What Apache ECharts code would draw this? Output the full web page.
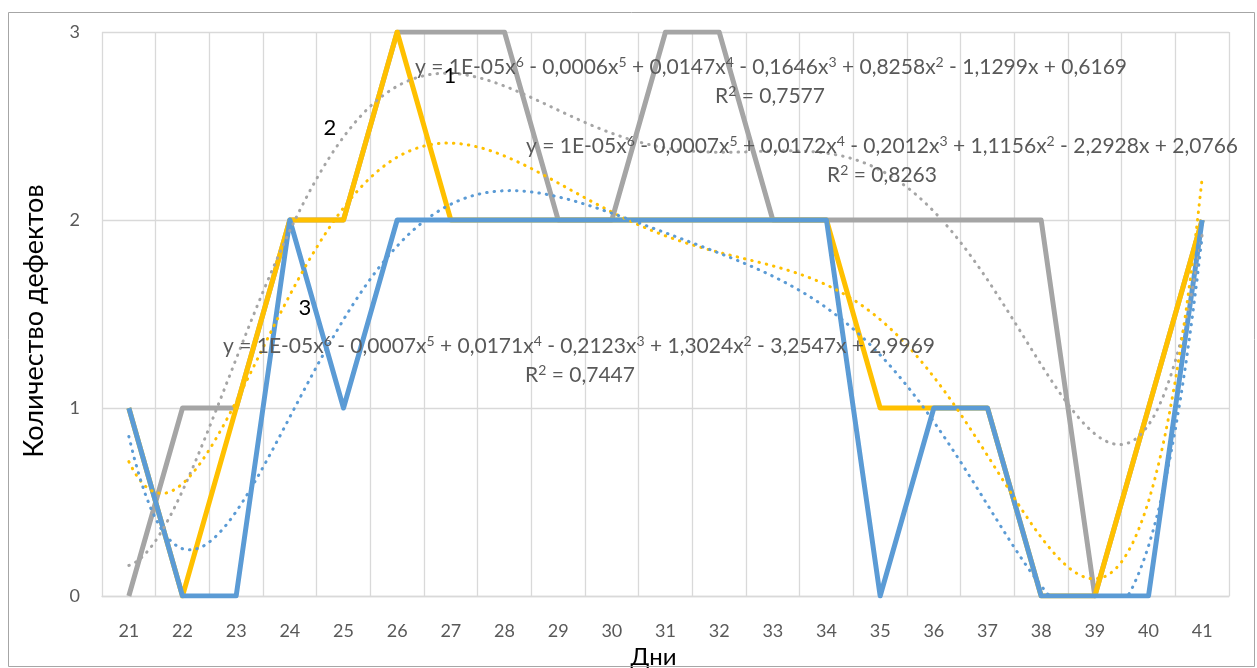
<!DOCTYPE html>
<html>
<head>
<meta charset="utf-8">
<script src="https://cdn.jsdelivr.net/npm/echarts@6/dist/echarts.min.js"></script>
<style>
  html, body { margin: 0; padding: 0; background: #ffffff; }
  #chart { width: 1257px; height: 668px; }
</style>
</head>
<body>
<div id="chart"></div>
<script>
// Days of observation
const days = ['21','22','23','24','25','26','27','28','29','30','31','32','33','34','35','36','37','38','39','40','41'];
// Defect counts per day for the three series
const series1 = [0,1,1,2,2,3,3,3,2,2,3,3,2,2,2,2,2,2,0,1,2];
const series2 = [1,0,1,2,2,3,2,2,2,2,2,2,2,2,1,1,1,0,0,1,2];
const series3 = [1,0,0,2,1,2,2,2,2,2,2,2,2,2,0,1,1,0,0,0,2];
// Trendline equations (as printed, {s|n} marks a superscript) and their R² values
const eqTexts = [
  'y = 1E-05x{s|6} - 0,0006x{s|5} + 0,0147x{s|4} - 0,1646x{s|3} + 0,8258x{s|2} - 1,1299x + 0,6169',
  'y = 1E-05x{s|6} - 0,0007x{s|5} + 0,0172x{s|4} - 0,2012x{s|3} + 1,1156x{s|2} - 2,2928x + 2,0766',
  'y = 1E-05x{s|6} - 0,0007x{s|5} + 0,0171x{s|4} - 0,2123x{s|3} + 1,3024x{s|2} - 3,2547x + 2,9969'
];
const r2Texts = ['R{s|2} = 0,7577', 'R{s|2} = 0,8263', 'R{s|2} = 0,7447'];
const seriesTags = ['1', '2', '3'];
const yTicks = [0, 1, 2, 3];

const colors = ['#A5A5A5', '#FFC000', '#5B9BD5'];

// Least-squares polynomial fit (order 6) on centred x, sampled for drawing
function polyFit(xs, ys, order) {
  const n = order + 1;
  const A = [];
  for (let i = 0; i < n; i++) { A.push(new Array(n + 1).fill(0)); }
  for (let k = 0; k < xs.length; k++) {
    const t = xs[k];
    for (let i = 0; i < n; i++) {
      for (let j = 0; j < n; j++) A[i][j] += Math.pow(t, i + j);
      A[i][n] += ys[k] * Math.pow(t, i);
    }
  }
  for (let c = 0; c < n; c++) {
    let p = c;
    for (let r = c + 1; r < n; r++) if (Math.abs(A[r][c]) > Math.abs(A[p][c])) p = r;
    [A[c], A[p]] = [A[p], A[c]];
    for (let r = 0; r < n; r++) {
      if (r === c) continue;
      const f = A[r][c] / A[c][c];
      for (let j = c; j <= n; j++) A[r][j] -= f * A[c][j];
    }
  }
  return A.map((row, i) => row[n] / row[i]);
}
function trendPoints(values) {
  const xs = days.map(d => (Number(d) - 31) / 10);
  const coef = polyFit(xs, values, 6);
  const pts = [];
  const first = Number(days[0]), last = Number(days[days.length - 1]);
  for (let x = first; x <= last + 1e-9; x += 0.1) {
    const t = (x - 31) / 10;
    let y = 0;
    for (let i = coef.length - 1; i >= 0; i--) y = y * t + coef[i];
    pts.push([Number(x.toFixed(2)), y]);
  }
  return pts;
}

const font = 'Lato, "Open Sans", sans-serif';
const lineSeries = [series1, series2, series3].map((vals, i) => ({
  type: 'line', name: seriesTags[i], data: vals, xAxisIndex: 0,
  symbol: 'none', z: 2 + i,
  lineStyle: { color: colors[i], width: 5, join: 'round' }
}));
const trendSeries = [series1, series2, series3].map((vals, i) => ({
  type: 'line', data: trendPoints(vals), xAxisIndex: 1,
  symbol: 'none', smooth: false, z: 6,
  lineStyle: { color: colors[i], width: 3, type: [0.5, 7], cap: 'round' }
}));

const eqRich = {
  s: { fontFamily: font, fontSize: 14, fill: '#595959', verticalAlign: 'top', lineHeight: 24 }
};
const eqPos = [[771, 67, 770, 96], [882, 146, 882, 175], [579, 346, 580, 375]];
const tagPos = [[450, 76], [330, 128], [305, 308]];
const graphics = [
  { type: 'rect', shape: { x: 8.5, y: 12.5, width: 1246, height: 654 },
    style: { fill: 'none', stroke: '#A6A6A6', lineWidth: 1 }, z: 100, silent: true }
];
eqTexts.forEach((t, i) => {
  graphics.push({ type: 'text', x: eqPos[i][0], y: eqPos[i][1], z: 50,
    style: { text: t, align: 'center', verticalAlign: 'middle', fontFamily: font, fontSize: 21,
      lineHeight: 24, fill: '#595959', rich: eqRich } });
  graphics.push({ type: 'text', x: eqPos[i][2], y: eqPos[i][3], z: 50,
    style: { text: r2Texts[i], align: 'center', verticalAlign: 'middle', fontFamily: font, fontSize: 21,
      lineHeight: 24, fill: '#595959', rich: eqRich } });
});
seriesTags.forEach((t, i) => {
  graphics.push({ type: 'text', x: tagPos[i][0], y: tagPos[i][1], z: 51,
    style: { text: t, align: 'center', verticalAlign: 'middle', font: '22px ' + font, fill: '#000000' } });
});

const chart = echarts.init(document.getElementById('chart'), null, { renderer: 'canvas' });
chart.setOption({
  animation: false,
  backgroundColor: '#ffffff',
  grid: { left: 102, right: 28, top: 32, bottom: 72, outerBoundsMode: 'none', containLabel: false },
  xAxis: [
    {
      type: 'category', data: days, boundaryGap: true,
      name: 'Дни', nameLocation: 'middle', nameGap: 48,
      nameTextStyle: { fontFamily: font, fontSize: 24, color: '#000000', padding: [0, 24, 0, 0] },
      axisLine: { lineStyle: { color: '#D9D9D9', width: 1.3 } },
      axisTick: { show: false },
      axisLabel: { color: '#595959', fontFamily: font, fontSize: 18, margin: 26 },
      splitLine: { show: true, lineStyle: { color: '#D9D9D9', width: 1.3 } }
    },
    {
      type: 'value', min: 20.5, max: 41.5, show: false
    }
  ],
  yAxis: {
    type: 'value', min: yTicks[0], max: yTicks[yTicks.length - 1], interval: 1,
    name: 'Количество дефектов', nameLocation: 'middle', nameGap: 54,
    nameTextStyle: { fontFamily: font, fontSize: 27, color: '#000000', padding: [0, 14, 0, 0] },
    axisLine: { show: false }, axisTick: { show: false },
    axisLabel: { color: '#595959', fontFamily: font, fontSize: 18, margin: 22 },
    splitLine: { lineStyle: { color: '#D9D9D9', width: 1.3 } }
  },
  series: lineSeries.concat(trendSeries),
  graphic: graphics
});
</script>
</body>
</html>
